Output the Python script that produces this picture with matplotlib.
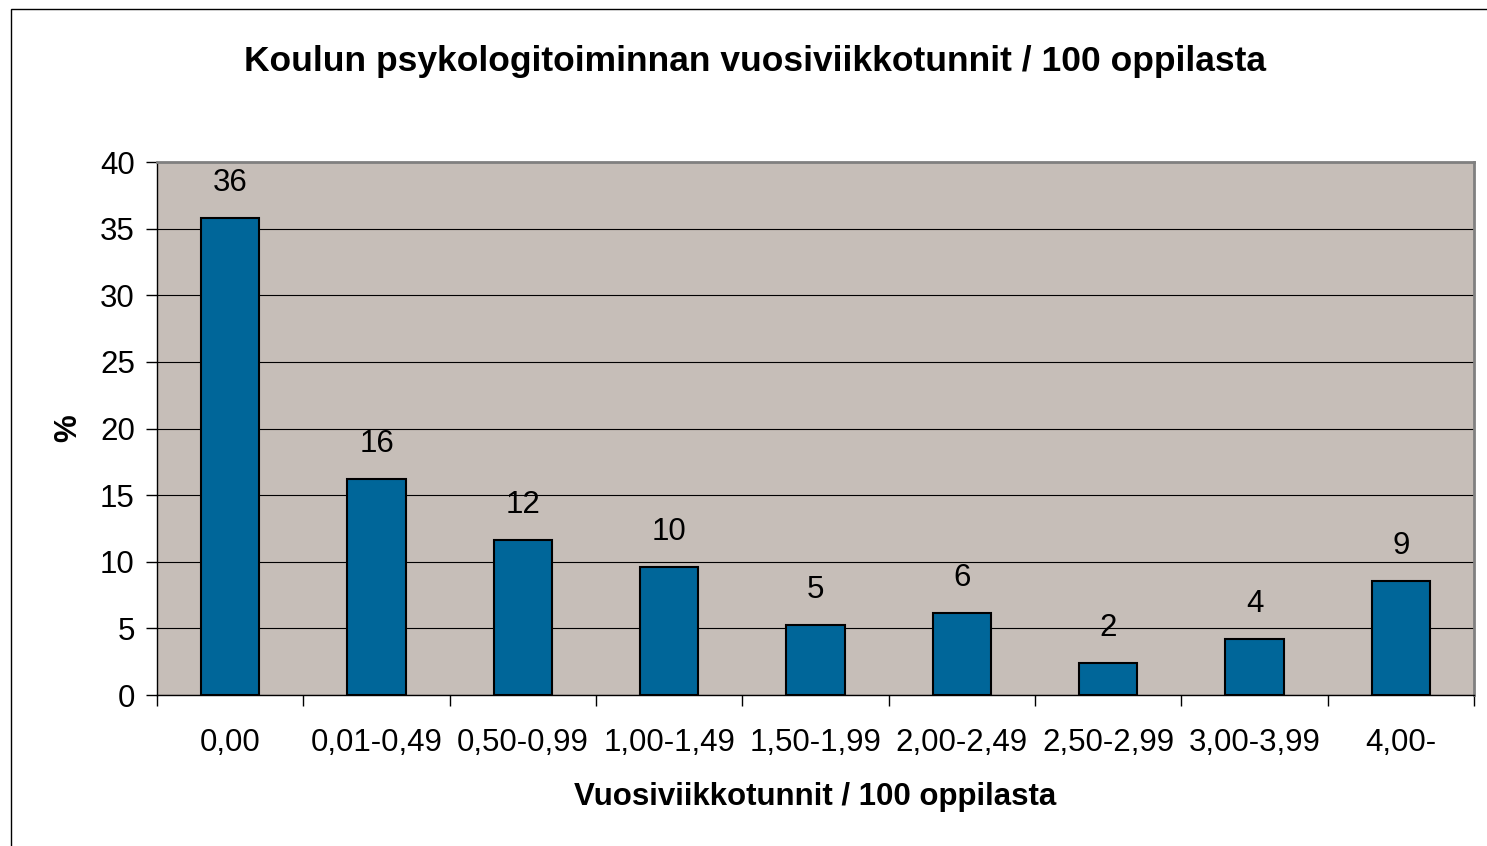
import matplotlib.pyplot as plt
from matplotlib.patches import Rectangle

categories = ['0,00', '0,01-0,49', '0,50-0,99', '1,00-1,49', '1,50-1,99',
              '2,00-2,49', '2,50-2,99', '3,00-3,99', '4,00-']
values = [35.8, 16.2, 11.6, 9.6, 5.25, 6.15, 2.4, 4.2, 8.55]
labels = ['36', '16', '12', '10', '5', '6', '2', '4', '9']

plt.rcParams['font.family'] = ['Liberation Sans', 'DejaVu Sans']

fig = plt.figure(figsize=(14.87, 8.46), dpi=100)
# outer chart border (left/top visible, rest cut off)
fig.patches.append(Rectangle((11 / 1487, -0.1), 1.2, 1 - 9 / 846 + 0.1,
                             transform=fig.transFigure, fill=False,
                             edgecolor='black', linewidth=1.0))

ax = fig.add_axes([157 / 1487, 1 - 695 / 846, (1474 - 157) / 1487, (695 - 162) / 846])
ax.set_facecolor('#c6beb8')

x = list(range(len(categories)))
ax.bar(x, values, width=0.4, color='#006699', edgecolor='black', linewidth=1.5, zorder=3)
for xi, v, lab in zip(x, values, labels):
    ax.text(xi, v + 1.5, lab, ha='center', va='bottom', fontsize=22.5)

ax.set_xlim(-0.5, len(categories) - 0.5)
ax.set_ylim(0, 40)
ax.set_yticks(range(0, 41, 5))
ax.yaxis.grid(True, color='black', linewidth=0.8, zorder=1)
ax.tick_params(axis='y', labelsize=22.5, length=8, direction='out', width=1, pad=8)

ax.set_xticks([i - 0.5 for i in range(len(categories) + 1)])
ax.set_xticklabels([])
ax.set_xticks(x, minor=True)
ax.set_xticklabels(categories, minor=True, fontsize=22.5)
ax.tick_params(axis='x', which='major', length=8, width=1)
ax.tick_params(axis='x', which='minor', length=0, pad=24)

for s in ['top', 'right']:
    ax.spines[s].set_color('#808080')
    ax.spines[s].set_linewidth(2)
for s in ['left', 'bottom']:
    ax.spines[s].set_color('black')
    ax.spines[s].set_linewidth(1)

ax.set_ylabel('%', fontsize=22.5, fontweight='bold', labelpad=12)
ax.set_xlabel('Vuosiviikkotunnit / 100 oppilasta', fontsize=22.5, fontweight='bold', labelpad=17)
fig.text(755 / 1487, 1 - 61 / 846, 'Koulun psykologitoiminnan vuosiviikkotunnit / 100 oppilasta',
         ha='center', va='center', fontsize=25.5, fontweight='bold')

fig.savefig('out.png', dpi=100)
